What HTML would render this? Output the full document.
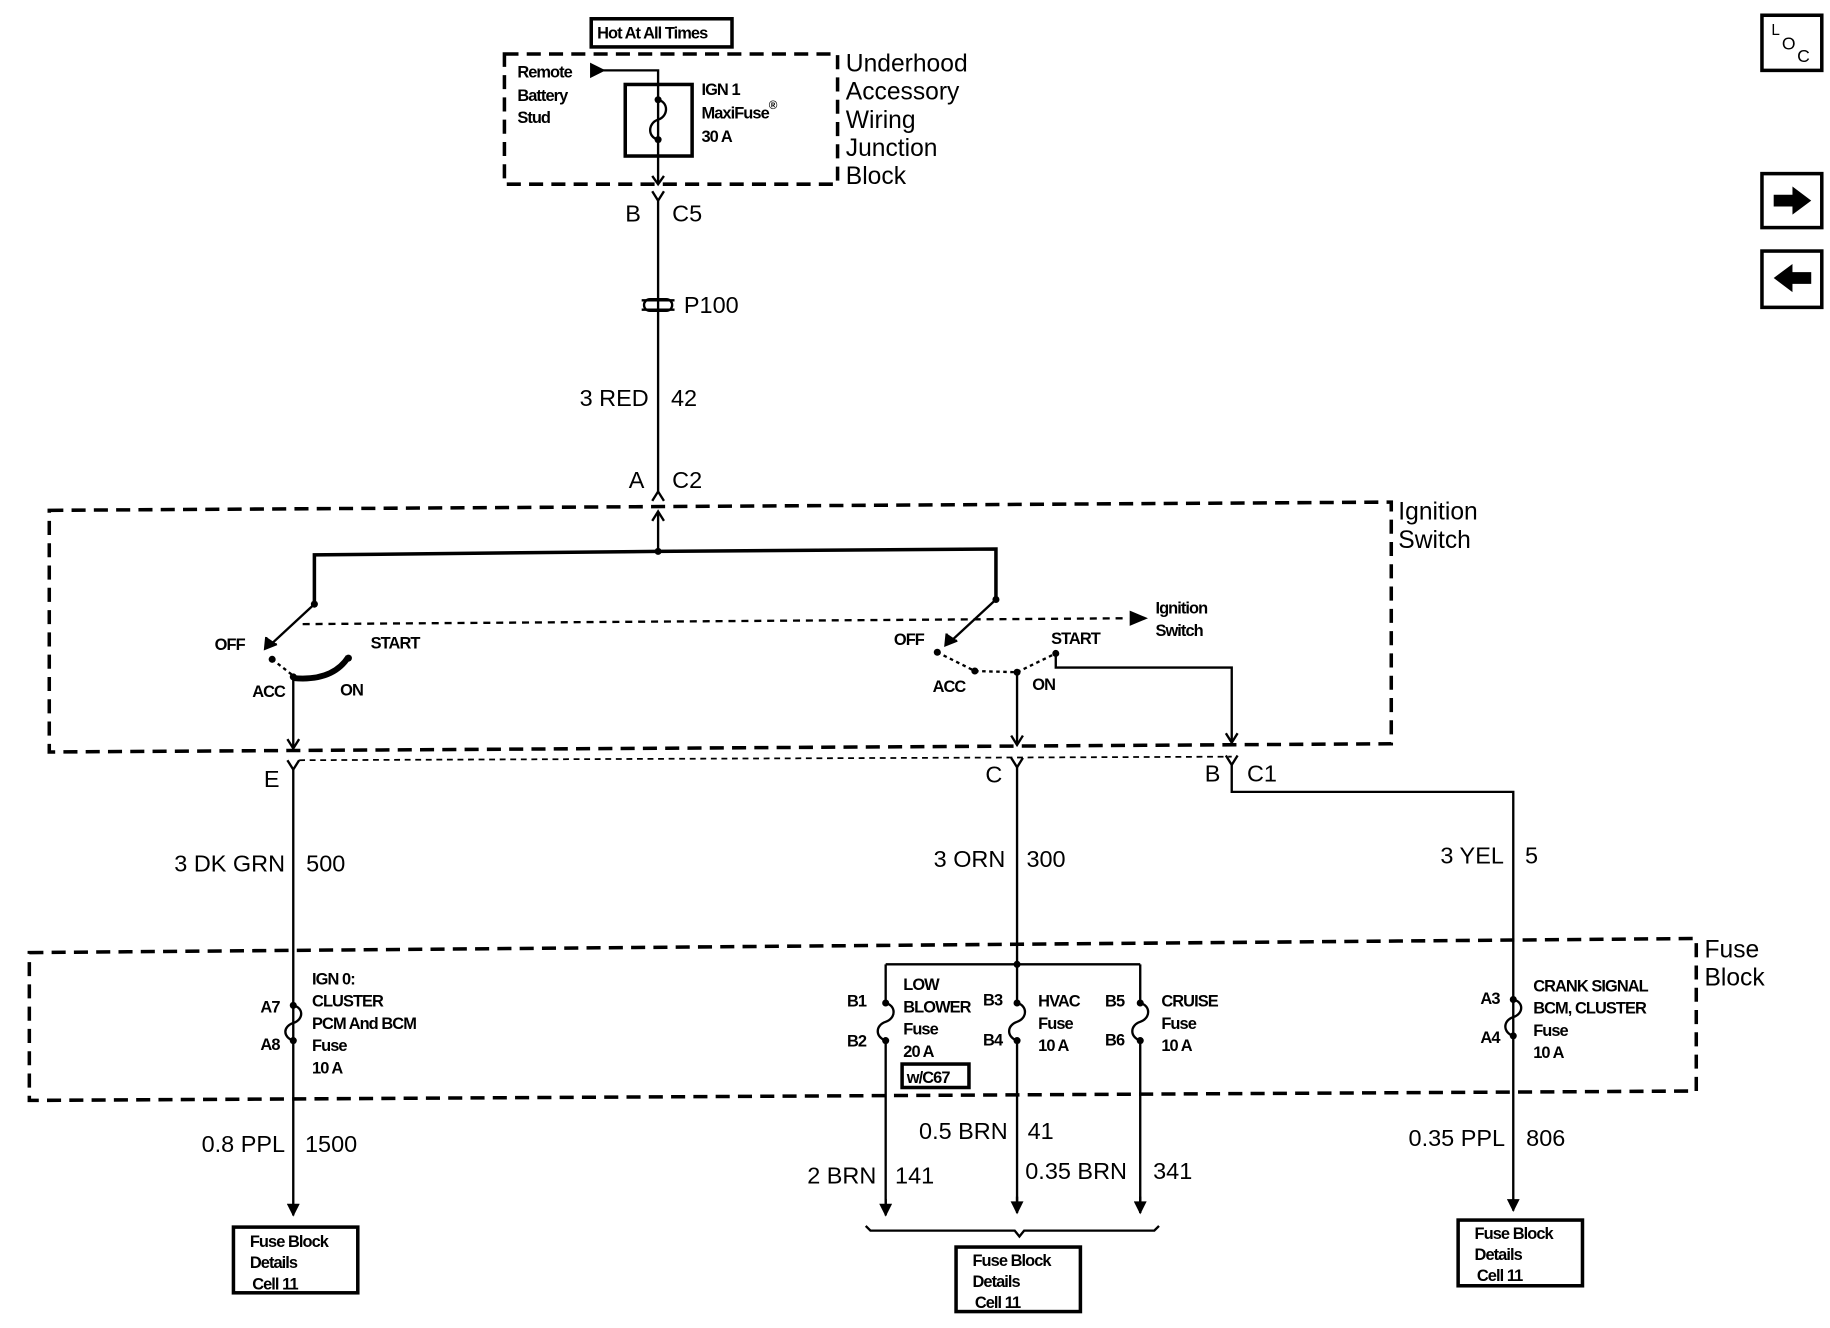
<!DOCTYPE html>
<html><head><meta charset="utf-8"><style>
html,body{margin:0;padding:0;background:#fff;}
svg{display:block}
text{font-family:"Liberation Sans",sans-serif;fill:#000}
.s{font-size:14px;letter-spacing:-0.8px;font-weight:bold}
.m{font-size:20px}
.l{font-size:21px}
</style></head><body>
<svg width="1830" height="1328" viewBox="0 0 1560 1132" preserveAspectRatio="none" xmlns="http://www.w3.org/2000/svg">
<defs>
<marker id="fa" viewBox="0 0 10 10" refX="9" refY="5" markerWidth="12" markerHeight="11" orient="auto" markerUnits="userSpaceOnUse">
<path d="M0,0 L10,5 L0,10 z" fill="#000"/></marker>
</defs>
<g fill="none" stroke="#000" stroke-width="2">
<rect x="504" y="16" width="120" height="24" stroke-width="3"/>
<rect x="430" y="46" width="284" height="111" stroke-width="3" stroke-dasharray="12,7"/>
<rect x="533" y="72" width="57" height="61" stroke-width="3"/>
<path d="M505,60 H561 V157"/>
<path d="M504,55 L514,60 L504,65 z" fill="#000"/>
<path d="M556,150 L561,157 L566,150"/>
<path d="M561,85 c9,2 9,14 0,17 c-9,3 -9,15 0,17"/>
<path d="M556,163 L561,171 L566,163 M561,171 V420"/>
<path d="M547,256 H575 M547,264 H575" stroke-width="2"/>
<rect x="549" y="255" width="24" height="10" rx="5"/>
<path d="M556,427 L561,419 L566,427"/>
<path d="M561,436 V470"/>
<path d="M556,444 L561,436 L566,444"/>
<path d="M42,435 L1186,428 V634 L42,641 z" stroke-width="3" stroke-dasharray="12,7"/>
<path d="M268,515 V473 L561,470 L849,468 V511" stroke-width="3"/>
<path d="M268,515 L228,552"/>
<path d="M227,543 L226,553 L236,549" fill="#000"/>
<path d="M849,511 L808,549"/>
<path d="M807,540 L806,550 L816,546" fill="#000"/>
<path d="M258,532 L962,527" stroke-dasharray="6,5"/>
<path d="M964,522 L976,527 L964,532 z" fill="#000"/>
<path d="M232,562 L250,576" stroke-dasharray="3,3"/>
<path d="M250,578 C272,580 288,574 297,560" stroke-width="5"/>
<path d="M250,578 V638"/>
<path d="M245,630 L250,638 L255,630"/>
<path d="M799,556 L831,572 L867,573 L900,557" stroke-dasharray="3,3"/>
<path d="M867,573 V634"/>
<path d="M862,627 L867,635 L872,627"/>
<path d="M900,557 V569 H1050 V632"/>
<path d="M1045,625 L1050,633 L1055,625"/>
<path d="M255,648 L1050,645" stroke-dasharray="5,4" stroke-width="1.5"/>
<path d="M245,648 L250,656 L255,648 M862,646 L867,654 L872,646 M1045,644 L1050,652 L1055,644"/>
<path d="M250,656 V1036" marker-end="url(#fa)"/>
<path d="M867,654 V822"/>
<path d="M1050,652 V675 H1290 V1032" marker-end="url(#fa)"/>
<path d="M25,812 L1446,800 V930 L25,938 z" stroke-width="3" stroke-dasharray="12,7"/>
<path d="M755,822 H972"/>
<path d="M755,822 V855 M755,887 V1030 M867,822 V855 M867,887 V1028 M972,822 V855 M972,887 V1028"/>
<path d="M755,1022 V1036" marker-end="url(#fa)"/>
<path d="M867,1020 V1034" marker-end="url(#fa)"/>
<path d="M972,1020 V1034" marker-end="url(#fa)"/>
<path d="M250,857 c9,2 9,12 0,15 c-9,3 -9,12 0,15"/>
<path d="M755,855 c9,2 9,13 0,16 c-9,3 -9,13 0,16"/>
<path d="M867,855 c9,2 9,13 0,16 c-9,3 -9,13 0,16"/>
<path d="M972,855 c9,2 9,13 0,16 c-9,3 -9,13 0,16"/>
<path d="M1290,852 c9,2 9,12 0,15 c-9,3 -9,13 0,16"/>
<rect x="769" y="907" width="57" height="20" stroke-width="3"/>
<path d="M738,1045 L742,1049 H865 L869,1054 L873,1049 H984 L988,1045"/>
<rect x="199" y="1046" width="106" height="56" stroke-width="3"/>
<rect x="815" y="1063" width="106" height="55" stroke-width="3"/>
<rect x="1243" y="1040" width="106" height="56" stroke-width="3"/>
<rect x="1502" y="13" width="51" height="47" stroke-width="3"/>
<rect x="1502" y="148" width="51" height="46" stroke-width="3"/>
<rect x="1502" y="214" width="51" height="48" stroke-width="3"/>
</g>
<g fill="#000">
<circle cx="561" cy="85" r="3"/><circle cx="561" cy="119" r="3"/>
<circle cx="561" cy="470" r="3"/>
<circle cx="268" cy="515" r="3"/><circle cx="849" cy="511" r="3"/>
<circle cx="232" cy="562" r="3"/><circle cx="250" cy="577" r="3"/><circle cx="297" cy="561" r="3"/>
<circle cx="799" cy="556" r="3"/><circle cx="831" cy="572" r="3"/><circle cx="867" cy="573" r="3"/><circle cx="900" cy="557" r="3"/>
<circle cx="250" cy="857" r="3"/><circle cx="250" cy="887" r="3"/>
<circle cx="755" cy="855" r="3"/><circle cx="755" cy="887" r="3"/>
<circle cx="867" cy="855" r="3"/><circle cx="867" cy="887" r="3"/>
<circle cx="972" cy="855" r="3"/><circle cx="972" cy="887" r="3"/>
<circle cx="1290" cy="852" r="3"/><circle cx="1290" cy="883" r="3"/>
<circle cx="867" cy="822" r="3"/>
<path d="M1512,166 H1528 V159 L1544,171 L1528,183 V176 H1512 z"/>
<path d="M1544,232 H1528 V225 L1512,237 L1528,249 V242 H1544 z"/>
</g>
<text class="s" x="509" y="33">Hot At All Times</text>
<text class="s" x="441" y="66">Remote</text><text class="s" x="441" y="86">Battery</text><text class="s" x="441" y="105">Stud</text>
<text class="s" x="598" y="81">IGN 1</text><text class="s" x="598" y="101">MaxiFuse<tspan font-size="10" dy="-8">®</tspan></text><text class="s" x="598" y="121">30 A</text>
<text class="l" x="721" y="61">Underhood</text><text class="l" x="721" y="85">Accessory</text><text class="l" x="721" y="109">Wiring</text><text class="l" x="721" y="133">Junction</text><text class="l" x="721" y="157">Block</text>
<text class="m" x="533" y="189">B</text><text class="m" x="573" y="189">C5</text>
<text class="m" x="583" y="267">P100</text>
<text class="m" x="553" y="346" text-anchor="end">3 RED</text><text class="m" x="572" y="346">42</text>
<text class="m" x="536" y="416">A</text><text class="m" x="573" y="416">C2</text>
<text class="l" x="1192" y="443">Ignition</text><text class="l" x="1192" y="467">Switch</text>
<text class="s" x="985" y="523">Ignition</text><text class="s" x="985" y="542">Switch</text>
<text class="s" x="183" y="554">OFF</text><text class="s" x="316" y="553">START</text><text class="s" x="215" y="594">ACC</text><text class="s" x="290" y="593">ON</text>
<text class="s" x="762" y="550">OFF</text><text class="s" x="896" y="549">START</text><text class="s" x="795" y="590">ACC</text><text class="s" x="880" y="588">ON</text>
<text class="m" x="225" y="671">E</text><text class="m" x="840" y="667">C</text><text class="m" x="1027" y="666">B</text><text class="m" x="1063" y="666">C1</text>
<text class="m" x="243" y="743" text-anchor="end">3 DK GRN</text><text class="m" x="261" y="743">500</text>
<text class="m" x="857" y="739" text-anchor="end">3 ORN</text><text class="m" x="875" y="739">300</text>
<text class="m" x="1282" y="736" text-anchor="end">3 YEL</text><text class="m" x="1300" y="736">5</text>
<text class="l" x="1453" y="816">Fuse</text><text class="l" x="1453" y="840">Block</text>
<text class="s" x="222" y="863">A7</text><text class="s" x="222" y="895">A8</text>
<text class="s" x="266" y="839">IGN 0:</text><text class="s" x="266" y="858">CLUSTER</text><text class="s" x="266" y="877">PCM And BCM</text><text class="s" x="266" y="896">Fuse</text><text class="s" x="266" y="915">10 A</text>
<text class="s" x="722" y="858">B1</text><text class="s" x="722" y="892">B2</text>
<text class="s" x="770" y="844">LOW</text><text class="s" x="770" y="863">BLOWER</text><text class="s" x="770" y="882">Fuse</text><text class="s" x="770" y="901">20 A</text>
<text class="s" x="773" y="923">w/C67</text>
<text class="s" x="838" y="857">B3</text><text class="s" x="838" y="891">B4</text>
<text class="s" x="885" y="858">HVAC</text><text class="s" x="885" y="877">Fuse</text><text class="s" x="885" y="896">10 A</text>
<text class="s" x="942" y="858">B5</text><text class="s" x="942" y="891">B6</text>
<text class="s" x="990" y="858">CRUISE</text><text class="s" x="990" y="877">Fuse</text><text class="s" x="990" y="896">10 A</text>
<text class="s" x="1262" y="856">A3</text><text class="s" x="1262" y="889">A4</text>
<text class="s" x="1307" y="845">CRANK SIGNAL</text><text class="s" x="1307" y="864">BCM, CLUSTER</text><text class="s" x="1307" y="883">Fuse</text><text class="s" x="1307" y="902">10 A</text>
<text class="m" x="243" y="982" text-anchor="end">0.8 PPL</text><text class="m" x="260" y="982">1500</text>
<text class="m" x="747" y="1009" text-anchor="end">2 BRN</text><text class="m" x="763" y="1009">141</text>
<text class="m" x="859" y="971" text-anchor="end">0.5 BRN</text><text class="m" x="876" y="971">41</text>
<text class="m" x="874" y="1005">0.35 BRN</text><text class="m" x="983" y="1005">341</text>
<text class="m" x="1283" y="977" text-anchor="end">0.35 PPL</text><text class="m" x="1301" y="977">806</text>
<text class="s" x="213" y="1063">Fuse Block</text><text class="s" x="213" y="1081">Details</text><text class="s" x="215" y="1099">Cell 11</text>
<text class="s" x="829" y="1079">Fuse Block</text><text class="s" x="829" y="1097">Details</text><text class="s" x="831" y="1115">Cell 11</text>
<text class="s" x="1257" y="1056">Fuse Block</text><text class="s" x="1257" y="1074">Details</text><text class="s" x="1259" y="1092">Cell 11</text>
<text font-size="13" x="1510" y="30">L</text><text font-size="15" x="1519" y="42">O</text><text font-size="15" x="1532" y="53">C</text>
</svg>
</body></html>
